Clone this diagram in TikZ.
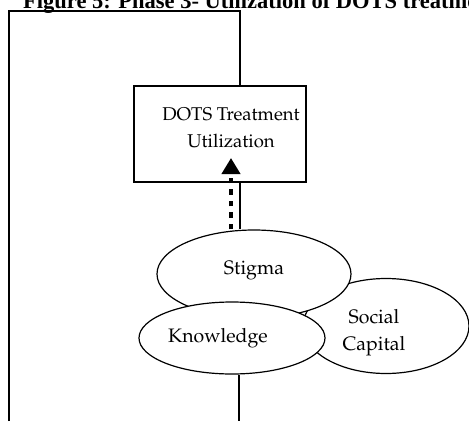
\documentclass[tikz,border=0pt]{standalone}
\usepackage{fontspec}
\setmainfont{Liberation Serif}
\usetikzlibrary{shapes.geometric,arrows.meta}
\newcommand{\palafont}{\fontencoding{T1}\fontfamily{ppl}\selectfont\fontsize{19.5}{27}\selectfont}
\newcommand{\boxfont}{\fontencoding{T1}\fontfamily{ppl}\selectfont\fontsize{18.5}{27}\selectfont}

\begin{document}
\begin{tikzpicture}[x=1pt,y=-1pt,
  frame line/.style={line width=1.7pt},
  box node/.style={rectangle,draw,line width=1.2pt,inner xsep=0pt,minimum width=172pt,minimum height=96pt,align=center,font=\boxfont},
  oval node/.style={ellipse,draw,fill=white,line width=1.2pt,inner sep=0pt,align=center,font=\palafont}]

  \clip (0,0) rectangle (469,421);

  \node[font=\bfseries\fontsize{22.5}{26}\selectfont,anchor=base west,inner sep=0pt] (title) at (23,8) {Figure 5: Phase 3- Utilization of DOTS treatment};

  \node[box node,text depth=12pt] (dots) at (220,134) {\hspace*{22pt}DOTS Treatment\\\hspace*{22pt}Utilization};
  \node[oval node,minimum width=166pt,minimum height=95pt,text height=55pt] (social) at (386,326) {Social\hspace*{24pt}\\Capital\hspace*{24pt}};
  \node[oval node,minimum width=194pt,minimum height=88pt,text height=14pt,text depth=14pt] (stigma) at (254,274) {Stigma};
  \node[oval node,minimum width=186pt,minimum height=72pt] (knowledge) at (232,338) {Knowledge\hspace*{28pt}};

  \coordinate (corner) at (9,11);
  \coordinate (topright) at (240,11);
  \coordinate (bottomleft) at (9,421);
  \coordinate (bottomline) at (239,421);
  \coordinate (arrowtip) at (231,158);

  % outer frame
  \draw[frame line] (bottomleft) -- (corner) -- (topright) -- (topright |- dots.north);
  \draw[frame line] (dots.south -| topright) -- (stigma.north -| topright);
  \draw[frame line] (knowledge.south -| bottomline) -- (bottomline);

  % dotted arrow
  \draw[line width=4.5pt,dash pattern=on 5.5pt off 6pt,-{Triangle[width=18pt,length=16pt]}]
    (stigma.north -| arrowtip) -- (arrowtip);
\end{tikzpicture}
\end{document}
